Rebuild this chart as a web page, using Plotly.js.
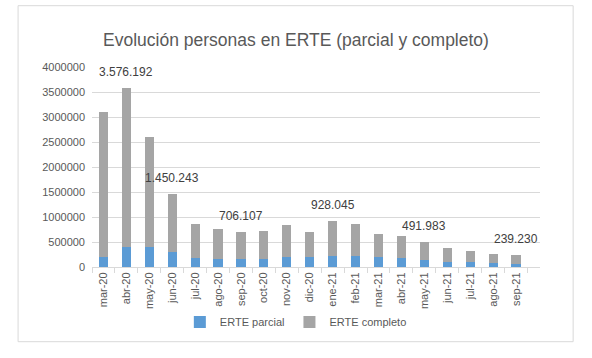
<!DOCTYPE html>
<html>
<head>
<meta charset="utf-8">
<script src="https://cdn.plot.ly/plotly-3.0.1.min.js"></script>
<style>html,body{margin:0;padding:0;background:#fff;}#chart{width:592px;height:358px;}</style>
</head>
<body>
<div id="chart"></div>
<script>
const months = ["mar-20","abr-20","may-20","jun-20","jul-20","ago-20","sep-20","oct-20","nov-20","dic-20","ene-21","feb-21","mar-21","abr-21","may-21","jun-21","jul-21","ago-21","sep-21"];
const erteParcial = [193000,393000,393000,293000,180000,166000,153000,166000,206000,193000,213000,226000,206000,186000,146000,106000,93000,73000,66000];
const erteCompleto = [2917000,3183192,2217000,1157243,690000,600000,553107,560000,634000,507000,715045,627000,460000,440000,345983,274000,220000,193000,173230];
const labelledMonths = ["abr-20","jun-20","sep-20","ene-21","may-21","sep-21"];
const yTicks = [0,500000,1000000,1500000,2000000,2500000,3000000,3500000,4000000];

const FONT = '"Liberation Sans", Arial, sans-serif';
const TXT = '#595959';

function fmt(n){ return String(Math.round(n)).replace(/\B(?=(\d{3})+(?!\d))/g, '.'); }

const totals = months.map((m,i)=>erteParcial[i]+erteCompleto[i]);

const annotations = labelledMonths.map(m=>{
  const i = months.indexOf(m);
  return {x:m, y:totals[i], xref:'x', yref:'y', text:fmt(totals[i]), showarrow:false,
          yanchor:'middle', yshift:16, font:{family:FONT, size:12, color:'#404040'}};
});

const data = [
  {type:'bar', name:'ERTE parcial', x:months, y:erteParcial, marker:{color:'#5B9BD5'}, hoverinfo:'none'},
  {type:'bar', name:'ERTE completo', x:months, y:erteCompleto, marker:{color:'#A5A5A5'}, hoverinfo:'none'}
];

const layout = {
  width:592, height:358,
  margin:{l:92, r:52, t:67, b:91},
  paper_bgcolor:'#fff', plot_bgcolor:'#fff',
  barmode:'stack', bargap:0.6,
  title:{text:'Evolución personas en ERTE (parcial y completo)', x:0.5, xref:'container', xanchor:'center',
         y:1-40/358, yref:'container', yanchor:'middle', font:{family:FONT, size:17.5, color:TXT}},
  xaxis:{type:'category', tickangle:-90, tickfont:{family:FONT, size:11, color:TXT},
         showline:true, linecolor:'#d9d9d9', linewidth:1, ticks:'outside', ticklen:5, tickcolor:'#d9d9d9',
         tickson:'boundaries', showgrid:false, fixedrange:true},
  yaxis:{range:[0,4000000], tickvals:yTicks, tickformat:'d', tickfont:{family:FONT, size:11, color:TXT},
         gridcolor:'#d9d9d9', gridwidth:1, zeroline:false, showline:false, ticks:'', ticklabelstandoff:6, fixedrange:true},
  legend:{orientation:'h', x:0.455, xanchor:'center', y:-0.275, yanchor:'middle',
          font:{family:FONT, size:11, color:TXT}, traceorder:'normal', itemwidth:30},
  annotations:annotations,
  shapes:[{type:'rect', xref:'paper', yref:'paper', x0:-0.165, x1:1.074, y0:-0.3735, y1:1.3065,
           line:{color:'#d9d9d9', width:1}, fillcolor:'rgba(0,0,0,0)', layer:'below'}]
};

Plotly.newPlot('chart', data, layout, {displayModeBar:false, staticPlot:true});
</script>
</body>
</html>
